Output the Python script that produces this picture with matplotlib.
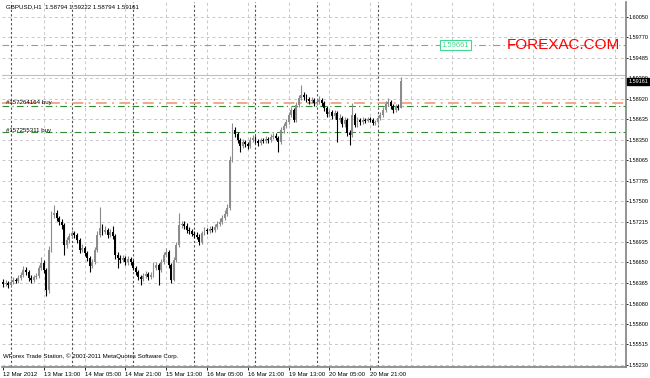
import matplotlib
matplotlib.use("Agg")
import matplotlib.pyplot as plt
import numpy as np

symbol_title = "GBPUSD,H1  1.58794 1.59222 1.58794 1.59161"
copyright_text = "WForex Trade Station, \u00a9 2001-2011 MetaQuotes Software Corp."

first_open = 1.56380
closes = [1.56352, 1.56366, 1.56338, 1.56380, 1.56407, 1.56394, 1.56435, 1.56477, 1.56546, 1.56518,
          1.56435, 1.56407, 1.56449, 1.56463, 1.56574, 1.56643, 1.56546, 1.56269, 1.56823, 1.57308,
          1.57335, 1.57266, 1.57211, 1.57169, 1.56892, 1.56961, 1.57017, 1.57058, 1.57031, 1.56961,
          1.56823, 1.56851, 1.56781, 1.56712, 1.56601, 1.56657, 1.56823, 1.57031, 1.57128, 1.57072,
          1.57100, 1.57031, 1.57072, 1.57017, 1.56754, 1.56712, 1.56684, 1.56712, 1.56657, 1.56698,
          1.56657, 1.56574, 1.56518, 1.56449, 1.56421, 1.56463, 1.56491, 1.56449, 1.56477, 1.56574,
          1.56615, 1.56546, 1.56657, 1.56754, 1.56795, 1.56615, 1.56407, 1.56684, 1.56892, 1.57169,
          1.57183, 1.57155, 1.57100, 1.57086, 1.57045, 1.57031, 1.57003, 1.56934, 1.57058, 1.57100,
          1.57086, 1.57114, 1.57100, 1.57142, 1.57183, 1.57211, 1.57266, 1.57322, 1.57405, 1.58069,
          1.58485, 1.58430, 1.58346, 1.58263, 1.58319, 1.58291, 1.58263, 1.58346, 1.58374, 1.58333,
          1.58305, 1.58346, 1.58333, 1.58360, 1.58346, 1.58388, 1.58402, 1.58374, 1.58319, 1.58485,
          1.58540, 1.58596, 1.58693, 1.58762, 1.58623, 1.58831, 1.58928, 1.58970, 1.58942, 1.58914,
          1.58887, 1.58900, 1.58859, 1.58873, 1.58900, 1.58859, 1.58790, 1.58707, 1.58734, 1.58679,
          1.58720, 1.58623, 1.58651, 1.58568, 1.58623, 1.58443, 1.58416, 1.58693, 1.58554, 1.58623,
          1.58596, 1.58623, 1.58610, 1.58637, 1.58623, 1.58582, 1.58596, 1.58651, 1.58693, 1.58762,
          1.58845, 1.58873, 1.58817, 1.58762, 1.58817, 1.58794, 1.59161]
highs = [1.56420, 1.56410, 1.56400, 1.56420, 1.56450, 1.56440, 1.56480, 1.56520, 1.56600, 1.56590,
         1.56540, 1.56470, 1.56480, 1.56510, 1.56620, 1.56720, 1.56680, 1.56580, 1.56880, 1.57360,
         1.57446, 1.57370, 1.57300, 1.57250, 1.57200, 1.57000, 1.57060, 1.57100, 1.57090, 1.57060,
         1.56990, 1.56900, 1.56880, 1.56810, 1.56740, 1.56700, 1.56860, 1.57080, 1.57419, 1.57180,
         1.57150, 1.57130, 1.57110, 1.57150, 1.57050, 1.56790, 1.56750, 1.56750, 1.56740, 1.56740,
         1.56730, 1.56690, 1.56600, 1.56540, 1.56480, 1.56500, 1.56530, 1.56520, 1.56520, 1.56650,
         1.56660, 1.56640, 1.56700, 1.56800, 1.56851, 1.56820, 1.56640, 1.56720, 1.56940, 1.57335,
         1.57230, 1.57220, 1.57190, 1.57140, 1.57120, 1.57080, 1.57070, 1.57040, 1.57090, 1.57140,
         1.57130, 1.57150, 1.57150, 1.57180, 1.57220, 1.57260, 1.57310, 1.57370, 1.57460, 1.58120,
         1.58582, 1.58520, 1.58460, 1.58370, 1.58360, 1.58350, 1.58320, 1.58390, 1.58420, 1.58400,
         1.58360, 1.58380, 1.58380, 1.58400, 1.58390, 1.58430, 1.58450, 1.58440, 1.58400, 1.58520,
         1.58580, 1.58640, 1.58740, 1.58800, 1.58790, 1.58870, 1.58970, 1.59108, 1.59010, 1.58980,
         1.58940, 1.58940, 1.58930, 1.58910, 1.58950, 1.58930, 1.58890, 1.58820, 1.58780, 1.58760,
         1.58760, 1.58750, 1.58700, 1.58680, 1.58660, 1.58650, 1.58480, 1.58859, 1.58720, 1.58660,
         1.58650, 1.58660, 1.58650, 1.58670, 1.58670, 1.58650, 1.58630, 1.58690, 1.58730, 1.58800,
         1.58890, 1.58928, 1.58900, 1.58840, 1.58850, 1.58850, 1.59222]
lows = [1.56310, 1.56320, 1.56290, 1.56320, 1.56350, 1.56360, 1.56370, 1.56410, 1.56450, 1.56480,
        1.56400, 1.56370, 1.56380, 1.56420, 1.56440, 1.56540, 1.56500, 1.56186, 1.56230, 1.56790,
        1.57260, 1.57220, 1.57170, 1.57120, 1.56754, 1.56850, 1.56920, 1.56990, 1.56990, 1.56920,
        1.56780, 1.56790, 1.56740, 1.56670, 1.56518, 1.56570, 1.56630, 1.56800, 1.57000, 1.57030,
        1.57040, 1.56990, 1.57000, 1.56980, 1.56700, 1.56574, 1.56640, 1.56650, 1.56620, 1.56620,
        1.56620, 1.56540, 1.56480, 1.56410, 1.56338, 1.56390, 1.56440, 1.56410, 1.56420, 1.56450,
        1.56540, 1.56338, 1.56520, 1.56630, 1.56720, 1.56580, 1.56366, 1.56390, 1.56660, 1.56860,
        1.57130, 1.57120, 1.57060, 1.57050, 1.57010, 1.56990, 1.56970, 1.56890, 1.56910, 1.57030,
        1.57050, 1.57060, 1.57070, 1.57070, 1.57110, 1.57150, 1.57180, 1.57240, 1.57300, 1.57380,
        1.58040, 1.58390, 1.58300, 1.58180, 1.58230, 1.58250, 1.58220, 1.58240, 1.58320, 1.58300,
        1.58270, 1.58280, 1.58300, 1.58310, 1.58310, 1.58320, 1.58360, 1.58340, 1.58180, 1.58290,
        1.58450, 1.58510, 1.58570, 1.58660, 1.58590, 1.58600, 1.58800, 1.58900, 1.58900, 1.58870,
        1.58850, 1.58860, 1.58820, 1.58830, 1.58840, 1.58820, 1.58750, 1.58660, 1.58670, 1.58640,
        1.58640, 1.58319, 1.58590, 1.58530, 1.58530, 1.58400, 1.58277, 1.58390, 1.58520, 1.58520,
        1.58560, 1.58570, 1.58580, 1.58590, 1.58590, 1.58550, 1.58550, 1.58570, 1.58630, 1.58670,
        1.58740, 1.58820, 1.58780, 1.58720, 1.58740, 1.58760, 1.58794]
opens = [first_open] + closes[:-1]

price_ticks = [1.60050, 1.59770, 1.59485, 1.59200, 1.58920, 1.58635, 1.58350, 1.58065, 1.57785,
               1.57500, 1.57215, 1.56935, 1.56650, 1.56365, 1.56080, 1.55800, 1.55515, 1.55230]
time_labels = ["12 Mar 2012", "13 Mar 13:00", "14 Mar 05:00", "14 Mar 21:00", "15 Mar 13:00",
               "16 Mar 05:00", "16 Mar 21:00", "19 Mar 13:00", "20 Mar 05:00", "20 Mar 21:00"]
time_label_bars = [0, 16, 32, 48, 64, 80, 96, 112, 128, 144]
grid_bars = [16, 32, 48, 64, 80, 96, 112, 128, 144, 160, 176, 192, 208, 224, 240]
day_separator_bars = [3, 27, 51, 75, 99, 123, 147]

current_price = 1.59161
tp_price = 1.59661
order_labels = ["#157264164 buy", "#157255311 buy"]
order_prices = [1.58817, 1.58457]
order_extra_price = 1.58859
ask_line_price = 1.59247

W, H = 650, 378
fig = plt.figure(figsize=(W / 100, H / 100), dpi=100)
fig.patch.set_facecolor("white")
L, R, T, B = 2, 626, 2, 367
ax = fig.add_axes([L / W, (H - B) / H, (R - L) / W, (B - T) / H])
ax.set_facecolor("white")

px_per_bar = 2.55
x0 = 3
ax.set_xlim((L - x0) / px_per_bar, (R - x0) / px_per_bar)
ax.set_ylim(1.55202, 1.60258)

FONT = "Liberation Sans"
FS = 4.4
FSY = 4.0

# grid
for p in price_ticks:
    ax.axhline(p, color="#c8c8c8", lw=0.7, ls=(0, (3, 3)), zorder=0)
for b in grid_bars:
    ax.axvline(b, color="#c8c8c8", lw=0.7, ls=(0, (3, 3)), zorder=0)
for b in day_separator_bars:
    ax.axvline(b, color="#505050", lw=0.8, ls=(0, (2, 2)), zorder=0.5)

# order / level lines
ax.axhline(tp_price, color="#b09090", lw=0.8, ls=(0, (6, 3, 1, 3)), zorder=1)
ax.axhline(order_extra_price, color="#f4a080", lw=1.3, ls=(0, (6, 3, 1, 3)), zorder=1)
ax.axhline(order_prices[0], color="#2e8b2e", lw=0.8, ls=(0, (6, 3, 1, 3)), zorder=1)
ax.axhline(order_prices[1], color="#2e8b2e", lw=0.8, ls=(0, (6, 3, 1, 3)), zorder=1)
ax.axhline(ask_line_price, color="#c0c0c0", lw=0.8, zorder=1)

# candles
idx = np.arange(len(closes))
o = np.array(opens); c = np.array(closes); h = np.array(highs); lo = np.array(lows)
up = c >= o
cols = np.where(up, "#8c8c8c", "#000000")
ax.vlines(idx, lo, h, colors=cols, lw=0.8, zorder=3)
ax.bar(idx, np.maximum(np.abs(c - o), 0.00003), bottom=np.minimum(o, c), width=0.72,
       color=cols, edgecolor="none", zorder=4)

for s in ["top", "left"]:
    ax.spines[s].set_visible(False)
ax.spines["right"].set_color("#808080")
ax.spines["bottom"].set_color("#808080")
ax.spines["right"].set_linewidth(1.2)
ax.spines["bottom"].set_linewidth(1.2)

ax.yaxis.tick_right()
ax.set_yticks(price_ticks)
ax.set_yticklabels([f"{p:.5f}" for p in price_ticks], fontsize=FSY, family=FONT, color="black")
ax.tick_params(axis="y", length=1.5, width=0.6, pad=0.5, colors="black")
ax.set_xticks(time_label_bars)
ax.set_xticklabels(time_labels, fontsize=FS, family=FONT, ha="left")
ax.tick_params(axis="x", length=2, width=0.6, pad=1.5)

# current price box
ax.text(1.0035, current_price, f"{current_price:.5f}", transform=ax.get_yaxis_transform(),
        fontsize=FSY, family=FONT, color="white", va="center", ha="left",
        bbox=dict(boxstyle="square,pad=0.15", fc="black", ec="black"), zorder=10, clip_on=False)

# texts
ax.text(4 / (R - L), 1 - 5 / (B - T), symbol_title, transform=ax.transAxes,
        fontsize=FS, family=FONT, va="center", ha="left")
ax.text(1 / (R - L), 1 - (356 - T) / (B - T), copyright_text, transform=ax.transAxes,
        fontsize=FS, family=FONT, va="center", ha="left")
for lab, p in zip(order_labels, [order_extra_price + 0.00012, order_prices[1] + 0.00025]):
    ax.text(1.0, p, lab, fontsize=FS, family=FONT, va="center", ha="left", zorder=6)
ax.text(172, tp_price, f"{tp_price:.5f}", fontsize=5.5, family=FONT, color="#40d890",
        va="center", ha="left", bbox=dict(boxstyle="square,pad=0.2", fc="white", ec="#40d890", lw=0.8),
        zorder=6)
ax.text(197.5, tp_price, "FOREXAC.COM", fontsize=11, family=FONT, color="#ff0000",
        va="center", ha="left", zorder=6)

fig.savefig("out.png", dpi=100, facecolor="white")
